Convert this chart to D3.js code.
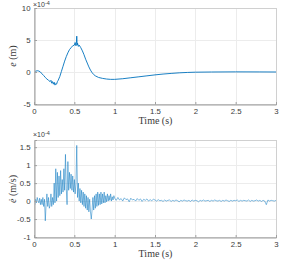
<!DOCTYPE html>
<html><head><meta charset="utf-8">
<script src="https://cdn.jsdelivr.net/npm/d3@7"></script>
<style>html,body{margin:0;padding:0;background:#fff;}svg{display:block;}</style>
</head><body>
<svg id="c" width="299" height="261"></svg>
<script>
// ---- data (values in units of 1e-4) ----
const xTicks = [0, 0.5, 1, 1.5, 2, 2.5, 3];
const eTicks = [-5, 0, 5, 10];
const edTicks = [-1, -0.5, 0, 0.5, 1, 1.5];

const eTime = [0,0.02,0.04,0.06,0.08,0.10,0.12,0.14,0.16,0.18,0.20,0.21,0.22,0.23,0.24,0.25,0.26,0.27,0.28,0.29,0.30,0.32,0.34,0.36,0.38,0.40,0.42,0.44,0.46,0.48,0.50,0.51,0.52,0.525,0.53,0.535,0.54,0.55,0.56,0.58,0.60,0.62,0.64,0.66,0.68,0.70,0.72,0.74,0.76,0.80,0.85,0.90,0.95,1.00,1.1,1.2,1.3,1.4,1.5,1.6,1.7,1.8,1.9,2.0,2.2,2.5,2.8,3.0];
const eValue = [0,0.12,0.2,0.15,0.0,-0.3,-0.55,-0.85,-1.1,-1.3,-1.5,-1.3,-1.75,-1.5,-1.9,-1.6,-2.05,-1.8,-1.9,-1.5,-1.3,-0.7,0.1,0.9,1.7,2.4,3.0,3.5,3.8,4.1,4.2,4.6,4.1,4.5,5.6,4.2,4.5,4.0,4.2,3.8,3.3,2.7,2.0,1.4,0.8,0.3,-0.1,-0.4,-0.6,-0.85,-1.0,-1.1,-1.15,-1.15,-1.05,-0.9,-0.75,-0.6,-0.45,-0.32,-0.22,-0.13,-0.07,-0.03,0.0,0.02,0.01,0.0];

// e-dot, 0.00 .. 0.99 s every 0.01 s
const edotFast = [
 0,-0.1,0.05,-0.05,0.1,0,-0.05,0.08,-0.1,0.05,
 -0.1,0.1,-0.15,0.05,-0.55,-0.1,0.2,-0.15,0.1,-0.2,
 -0.12,0.2,-0.15,0.1,-0.1,0.5,-0.05,0.9,0.0,0.8,
 0.1,0.7,0.15,0.85,0.2,0.6,0.25,0.9,0.3,1.3,
 0.35,-0.1,1.1,0.3,0.8,0.35,0.75,0.3,0.7,0.25,
 0.6,0.2,0.5,1.55,0.1,0.5,0.0,0.35,-0.05,0.3,
 -0.1,0.25,-0.15,0.2,-0.2,0.15,-0.25,0.1,-0.3,0.05,
 -0.3,-0.5,-0.25,0.1,-0.25,0.15,-0.2,0.2,-0.15,0.25,
 -0.12,0.2,-0.1,0.25,-0.08,0.2,-0.05,0.25,-0.05,0.15,
 -0.02,0.2,0.0,0.15,0.02,0.2,0.0,0.12,0.03,0.15];
// e-dot, 1.00 .. 3.00 s, evenly sampled
const edotSlow = [
 0.08,0.02,0.1,0.03,0.07,0.0,0.09,0.04,0.06,-0.02,0.08,0.03,0.05,0.0,0.07,0.02,0.06,-0.01,0.05,0.02,0.06,0.0,0.04,0.01,0.05,
 0.03,0.0,0.04,0.01,0.02,-0.01,0.03,0.0,0.02,0.03,-0.01,0.02,0.0,0.03,0.01,-0.02,0.02,0.0,0.03,0.01,0.0,0.02,-0.01,0.03,0.0,
 0.02,0.01,-0.02,0.02,0.0,0.03,0.0,0.01,0.02,-0.01,0.02,0.0,0.03,0.01,0.0,0.02,-0.01,0.02,0.0,0.03,0.01,-0.01,0.02,0.0,0.02,
 0.01,0.03,-0.01,0.02,0.0,0.02,0.01,0.0,0.03,-0.01,0.02,0.0,0.01,0.03,0.0,0.02,-0.01,0.02,0.0,-0.1,0.03,0.0,0.02,0.01,0.0,0.02];

const edotSeries = edotFast.map((v,i)=>[i*0.01, v])
  .concat(edotSlow.map((v,i)=>[1 + i*2/(edotSlow.length-1), v]));
const eSeries = eTime.map((t,i)=>[t, eValue[i]]);

// ---- drawing ----
const svg = d3.select("#c");
const L = 34, R = 276;
const x = d3.scaleLinear().domain([0,3]).range([L,R]);
const fmt = d => String(d);
const lineColor = "#0072BD";
const txt = "#3a3a3a";

function panel(top, bottom, domain, yt, data, ylabelParts, labelY, expY, lw, op) {
  const y = d3.scaleLinear().domain(domain).range([bottom, top]);
  const g = svg.append("g");
  // grid
  g.append("g").selectAll("line").data(xTicks).join("line")
    .attr("x1", d=>x(d)+0.5).attr("x2", d=>x(d)+0.5).attr("y1", top).attr("y2", bottom)
    .attr("stroke", "#ececec").attr("stroke-width", 1).attr("shape-rendering","crispEdges");
  g.append("g").selectAll("line").data(yt).join("line")
    .attr("x1", L).attr("x2", R).attr("y1", d=>y(d)+0.5).attr("y2", d=>y(d)+0.5)
    .attr("stroke", "#ececec").attr("stroke-width", 1).attr("shape-rendering","crispEdges");
  // data line
  const clipId = "clip" + top;
  svg.append("clipPath").attr("id", clipId).append("rect")
    .attr("x", L).attr("y", top).attr("width", R-L).attr("height", bottom-top);
  g.append("path").datum(data)
    .attr("clip-path", `url(#${clipId})`)
    .attr("fill", "none").attr("stroke", lineColor).attr("stroke-width", lw)
    .attr("stroke-opacity", op)
    .attr("stroke-linejoin","round")
    .attr("d", d3.line().x(d=>x(d[0])).y(d=>y(d[1])));
  // frame
  g.append("rect").attr("x", L+0.5).attr("y", top+0.5).attr("width", R-L).attr("height", bottom-top)
    .attr("fill","none").attr("stroke","#d0d0d0").attr("stroke-width",1).attr("shape-rendering","crispEdges");
  // axes
  const xa = g.append("g").attr("transform", `translate(0,${bottom+0.5})`)
    .call(d3.axisBottom(x).tickValues(xTicks).tickFormat(fmt).tickSize(-2.5).tickPadding(4));
  const ya = g.append("g").attr("transform", `translate(${L+0.5},0)`)
    .call(d3.axisLeft(y).tickValues(yt).tickFormat(fmt).tickSize(-2.5).tickPadding(4));
  [xa, ya].forEach(a => {
    a.select(".domain").attr("stroke", "#a0a0a0");
    a.selectAll(".tick line").attr("stroke", "#a0a0a0");
    a.selectAll("text").attr("fill", txt).style("font-family","'Liberation Sans', Arial, sans-serif").style("font-size","7.8px");
  });
  // x label
  g.append("text").attr("x", (L+R)/2 + 0.5).attr("y", bottom + 20)
    .attr("text-anchor","middle").attr("fill",txt)
    .style("font-family","'Liberation Serif', 'Times New Roman', serif").style("font-size","10px")
    .text("Time (s)");
  // y label
  const yl = g.append("text").attr("transform", `translate(16,${labelY}) rotate(-90)`)
    .attr("text-anchor","middle").attr("fill",txt)
    .style("font-family","'Liberation Serif', 'Times New Roman', serif").style("font-size","10px");
  yl.append("tspan").style("font-style","italic").text(ylabelParts[0]);
  yl.append("tspan").text(ylabelParts[1]);
  // exponent
  const ex = g.append("text").attr("x", L - 1).attr("y", expY).attr("fill",txt)
    .style("font-family","'Liberation Sans', Arial, sans-serif").style("font-size","7px");
  ex.append("tspan").text("×10");
  ex.append("tspan").attr("dy", -2.5).style("font-size","5.5px").text("-4");
}

panel(8, 104, [-5,10], eTicks, eSeries, ["e", " (m)"], 56, 7, 0.9, 1);
panel(140, 237, [-1,1.7], edTicks, edotSeries, ["ė", " (m/s)"], 189, 137, 0.55, 0.9);
</script>
</body></html>
